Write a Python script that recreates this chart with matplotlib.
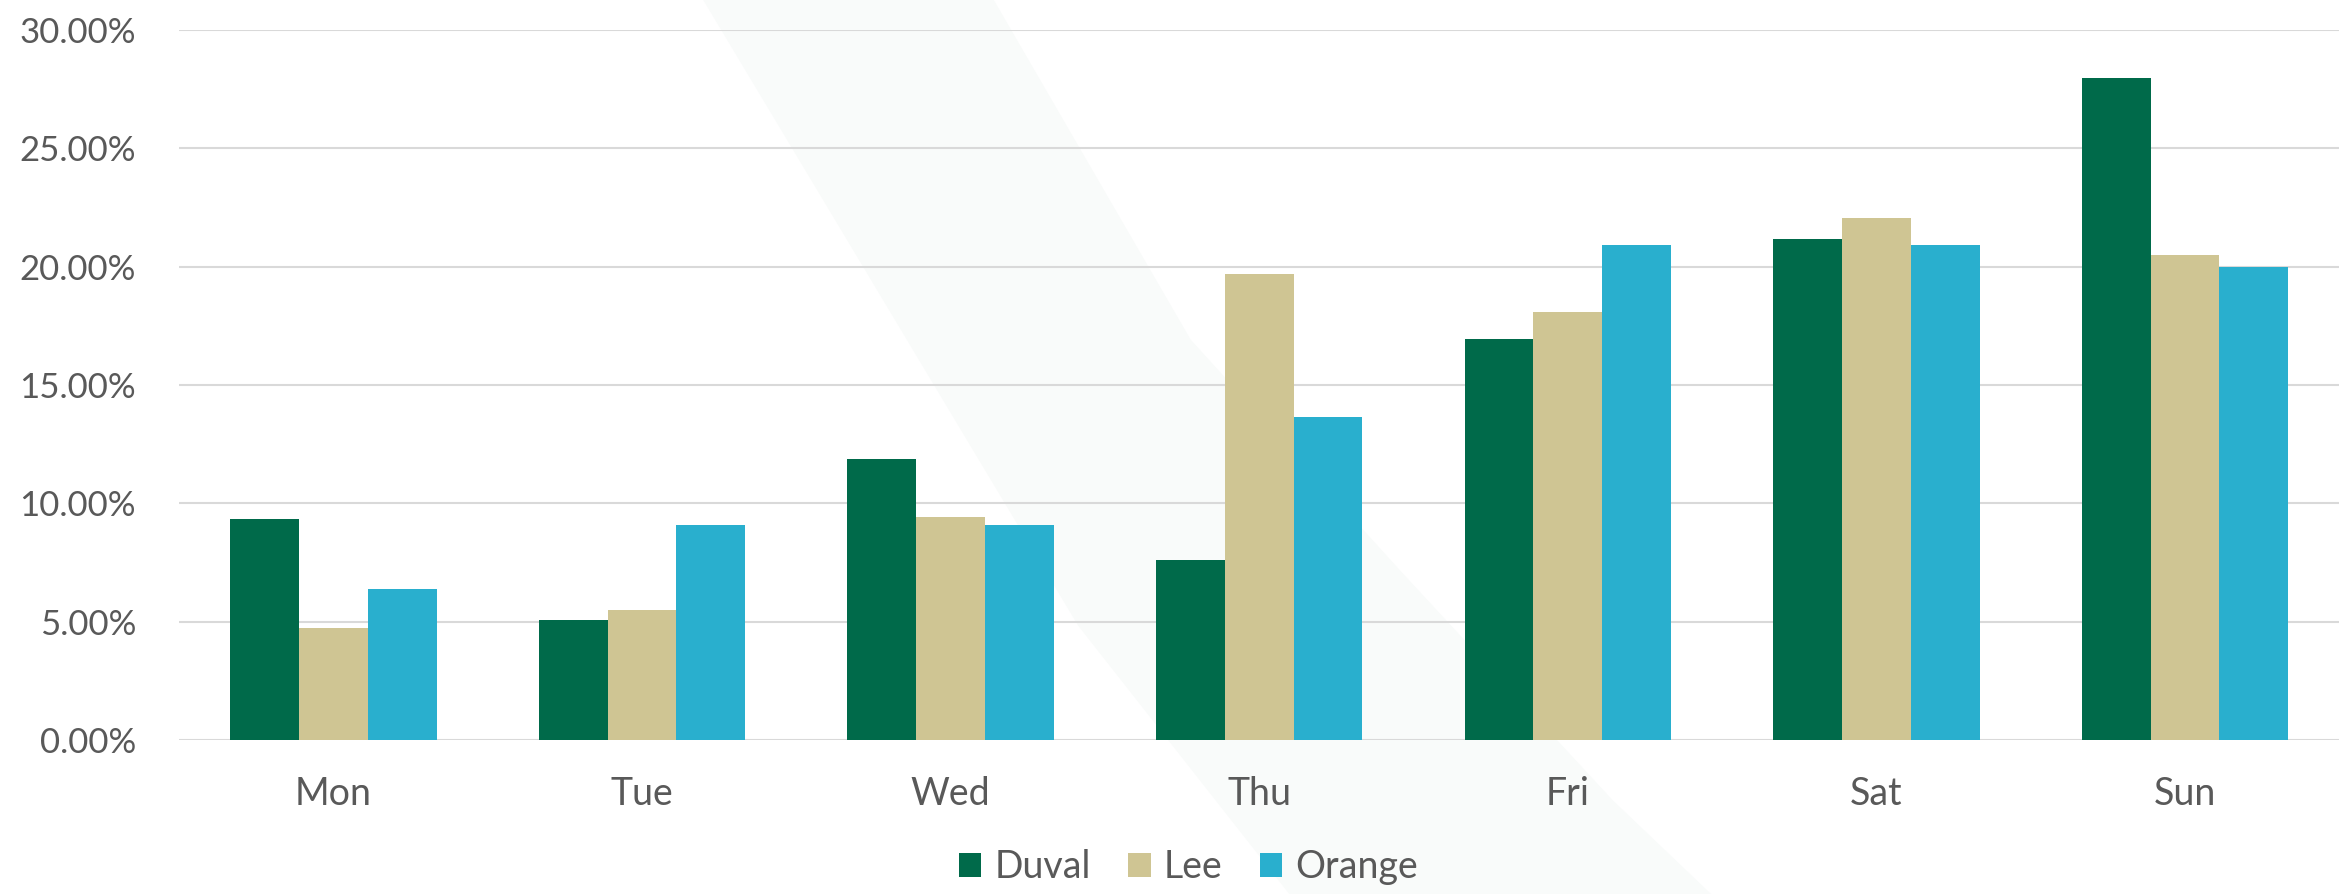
import numpy as np
import matplotlib
matplotlib.use("Agg")
import matplotlib.pyplot as plt
from matplotlib.patches import Polygon
from matplotlib.ticker import PercentFormatter

# data
DAYS = ["Mon", "Tue", "Wed", "Thu", "Fri", "Sat", "Sun"]
SERIES = ["Duval", "Lee", "Orange"]
DUVAL = [9.32, 5.07, 11.85, 7.62, 16.92, 21.17, 27.95]
LEE = [4.71, 5.49, 9.44, 19.69, 18.10, 22.05, 20.47]
ORANGE = [6.37, 9.08, 9.08, 13.64, 20.89, 20.90, 20.00]
COLORS = ["#006A4A", "#CFC593", "#29AFCE"]

TEXT = "#595959"
GRID = "#D9D9D9"

plt.rcParams["font.family"] = ["Lato", "DejaVu Sans"]

fig = plt.figure(figsize=(23.44, 8.94), dpi=100)

# faint watermark band behind the chart
band = Polygon([(0.30, 1.0), (0.424, 1.0), (0.466, 0.81), (0.508, 0.62),
                (0.598, 0.36), (0.688, 0.105), (0.73, 0.0), (0.55, 0.0),
                (0.46, 0.30), (0.38, 0.65)],
               closed=True, transform=fig.transFigure, facecolor="#F9FBFA",
               edgecolor="none", zorder=-5)
fig.patches.append(band)

ax = fig.add_axes([0.0764, 0.1723, 0.9216, 0.7943])
ax.patch.set_alpha(0)

x = np.arange(len(DAYS))
w = 0.223
for i, (vals, name) in enumerate(zip([DUVAL, LEE, ORANGE], SERIES)):
    ax.bar(x + (i - 1) * w, np.array(vals) / 100, width=w, color=COLORS[i],
           label=name, zorder=3)

ax.set_xlim(-0.5, len(DAYS) - 0.5)
ax.set_ylim(0, 0.30)
ax.set_yticks(np.arange(0, 0.301, 0.05))
ax.yaxis.set_major_formatter(PercentFormatter(1.0, decimals=2))
ax.set_xticks(x)
ax.set_xticklabels(DAYS)

ax.grid(axis="y", color=GRID, linewidth=1.5, zorder=0)
for s in ax.spines.values():
    s.set_visible(False)
ax.tick_params(axis="both", length=0, labelcolor=TEXT)
ax.tick_params(axis="y", labelsize=25, pad=31)
ax.tick_params(axis="x", labelsize=27, pad=26)

handles, labels = ax.get_legend_handles_labels()
fig.legend(handles, labels, loc="center", bbox_to_anchor=(0.507, 0.03),
           ncol=3, frameon=False, fontsize=27, labelcolor=TEXT,
           handlelength=0.6, handleheight=0.6, handletextpad=0.35,
           columnspacing=1.0)

fig.savefig("out.png", dpi=100, facecolor="white")
